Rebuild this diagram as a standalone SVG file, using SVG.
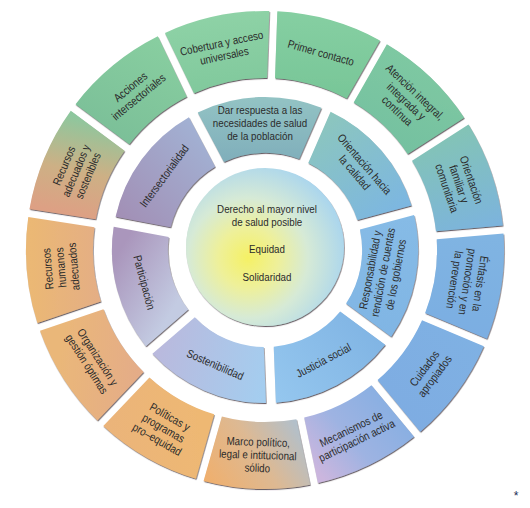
<svg xmlns="http://www.w3.org/2000/svg" width="530" height="508" viewBox="0 0 530 508">
<style>
.seg{filter:url(#sh)}
.t{font-family:'Liberation Sans',Arial,sans-serif;font-size:11.5px;fill:#2b2b2b;text-anchor:middle}
.ti{font-family:'Liberation Sans',Arial,sans-serif;font-size:11.5px;fill:#2b2b2b;text-anchor:middle}
</style>
<defs>
<filter id="sh" x="-10%" y="-10%" width="120%" height="120%">
<feDropShadow dx="0.6" dy="1.1" stdDeviation="0.6" flood-color="#3a2f35" flood-opacity="0.75"/>
</filter>
<linearGradient id="gCob" gradientUnits="userSpaceOnUse" x1="215" y1="15" x2="225" y2="95"><stop offset="0" stop-color="#8ED2A6"/><stop offset="1" stop-color="#80C89C"/></linearGradient>
<linearGradient id="gPri" gradientUnits="userSpaceOnUse" x1="320" y1="12" x2="315" y2="95"><stop offset="0" stop-color="#86CFA2"/><stop offset="1" stop-color="#78C698"/></linearGradient>
<linearGradient id="gAte" gradientUnits="userSpaceOnUse" x1="420" y1="50" x2="380" y2="150"><stop offset="0" stop-color="#7FC9A2"/><stop offset="1" stop-color="#74C0A0"/></linearGradient>
<linearGradient id="gOri" gradientUnits="userSpaceOnUse" x1="440" y1="120" x2="480" y2="235"><stop offset="0" stop-color="#84C6B0"/><stop offset="1" stop-color="#7CB3DE"/></linearGradient>
<linearGradient id="gEnf" gradientUnits="userSpaceOnUse" x1="470" y1="235" x2="460" y2="335"><stop offset="0" stop-color="#80B4E2"/><stop offset="1" stop-color="#7BAEE2"/></linearGradient>
<linearGradient id="gCui" gradientUnits="userSpaceOnUse" x1="470" y1="330" x2="395" y2="420"><stop offset="0" stop-color="#7FB1E3"/><stop offset="1" stop-color="#7EACE2"/></linearGradient>
<linearGradient id="gMec" gradientUnits="userSpaceOnUse" x1="410" y1="400" x2="320" y2="475"><stop offset="0" stop-color="#82AEE2"/><stop offset="0.6" stop-color="#9EB3E2"/><stop offset="1" stop-color="#CBB6DE"/></linearGradient>
<linearGradient id="gMar" gradientUnits="userSpaceOnUse" x1="305" y1="418" x2="205" y2="482"><stop offset="0" stop-color="#A9C1D6"/><stop offset="0.5" stop-color="#DDB993"/><stop offset="1" stop-color="#F0AF6C"/></linearGradient>
<linearGradient id="gPol" gradientUnits="userSpaceOnUse" x1="200" y1="420" x2="110" y2="430"><stop offset="0" stop-color="#EEB873"/><stop offset="1" stop-color="#EBB47A"/></linearGradient>
<linearGradient id="gOrg" gradientUnits="userSpaceOnUse" x1="140" y1="370" x2="60" y2="360"><stop offset="0" stop-color="#E4AC88"/><stop offset="1" stop-color="#EAB779"/></linearGradient>
<linearGradient id="gRH" gradientUnits="userSpaceOnUse" x1="100" y1="265" x2="30" y2="265"><stop offset="0" stop-color="#E4AE85"/><stop offset="1" stop-color="#EBB874"/></linearGradient>
<linearGradient id="gRec" gradientUnits="userSpaceOnUse" x1="95" y1="120" x2="75" y2="215"><stop offset="0" stop-color="#8DC79E"/><stop offset="0.55" stop-color="#CDB085"/><stop offset="1" stop-color="#DDA084"/></linearGradient>
<linearGradient id="gAcc" gradientUnits="userSpaceOnUse" x1="160" y1="40" x2="110" y2="140"><stop offset="0" stop-color="#88CEA0"/><stop offset="1" stop-color="#7BBF98"/></linearGradient>
<linearGradient id="gDar" gradientUnits="userSpaceOnUse" x1="260" y1="97" x2="260" y2="160"><stop offset="0" stop-color="#93C3C4"/><stop offset="1" stop-color="#80AFBB"/></linearGradient>
<linearGradient id="gOca" gradientUnits="userSpaceOnUse" x1="320" y1="110" x2="400" y2="215"><stop offset="0" stop-color="#8DC7BB"/><stop offset="1" stop-color="#7CB6E2"/></linearGradient>
<linearGradient id="gRes" gradientUnits="userSpaceOnUse" x1="380" y1="215" x2="380" y2="340"><stop offset="0" stop-color="#86BBE6"/><stop offset="1" stop-color="#80B5E4"/></linearGradient>
<linearGradient id="gJus" gradientUnits="userSpaceOnUse" x1="380" y1="320" x2="280" y2="400"><stop offset="0" stop-color="#7FB3E3"/><stop offset="1" stop-color="#94C6EE"/></linearGradient>
<linearGradient id="gSos" gradientUnits="userSpaceOnUse" x1="265" y1="380" x2="150" y2="350"><stop offset="0" stop-color="#A4CDEF"/><stop offset="1" stop-color="#BBB8DC"/></linearGradient>
<linearGradient id="gPar" gradientUnits="userSpaceOnUse" x1="120" y1="250" x2="185" y2="290"><stop offset="0" stop-color="#AA96BC"/><stop offset="1" stop-color="#C3CBE2"/></linearGradient>
<linearGradient id="gInt" gradientUnits="userSpaceOnUse" x1="120" y1="215" x2="215" y2="130"><stop offset="0" stop-color="#A290B6"/><stop offset="1" stop-color="#A2B4D6"/></linearGradient>
<radialGradient id="gCore" gradientUnits="userSpaceOnUse" cx="248" cy="258" r="100"><stop offset="0" stop-color="#F5F165"/><stop offset="0.3" stop-color="#EEF09A"/><stop offset="0.6" stop-color="#D6EAD6"/><stop offset="1" stop-color="#A9D5EE"/></radialGradient>
</defs>
<rect width="530" height="508" fill="#ffffff"/>

<g id="n-primer-contacto">
<path class="seg" fill="url(#gPri)" d="M277.34,11.29 A239,239 0 0 1 379.91,40.40 L346.72,98.60 A172,172 0 0 0 275.00,78.25 Z"/>
<text class="t" transform="translate(321.0,52.8) rotate(15.85) scale(0.85,1)"><tspan x="0" y="4">Primer contacto</tspan></text>
</g>
<g id="n-atencion-integral">
<path class="seg" fill="url(#gAte)" d="M386.86,44.36 A239,239 0 0 1 464.16,117.81 L407.72,153.93 A172,172 0 0 0 353.67,102.56 Z"/>
<text class="t" transform="translate(406.2,101.4) rotate(43.54) scale(0.85,1)"><tspan x="0" y="-9">Atención integral,</tspan><tspan x="0" y="4">integrada y</tspan><tspan x="0" y="17">contínua</tspan></text>
</g>
<g id="n-orientacion-familiar">
<path class="seg" fill="url(#gOri)" d="M468.47,124.55 A239,239 0 0 1 502.78,225.51 L436.02,231.25 A172,172 0 0 0 412.03,160.66 Z"/>
<text class="t" transform="translate(459.1,184.0) rotate(71.23) scale(0.85,1)"><tspan x="0" y="-9">Orientación</tspan><tspan x="0" y="4">familiar y</tspan><tspan x="0" y="17">comunitaria</tspan></text>
</g>
<g id="n-enfasis">
<path class="seg" fill="url(#gEnf)" d="M503.46,233.48 A239,239 0 0 1 486.92,338.81 L425.15,312.88 A172,172 0 0 0 436.71,239.22 Z"/>
<text class="t" transform="translate(467.5,281.8) rotate(98.92) scale(0.85,1)"><tspan x="0" y="-9">Énfasis en la</tspan><tspan x="0" y="4">promoción y en</tspan><tspan x="0" y="17">la prevención</tspan></text>
</g>
<g id="n-cuidados">
<path class="seg" fill="url(#gCui)" d="M483.83,346.19 A239,239 0 0 1 420.23,431.77 L377.58,380.10 A172,172 0 0 0 422.05,320.26 Z"/>
<text class="t" transform="translate(429.5,372.3) rotate(-53.39) scale(0.85,1)"><tspan x="0" y="-2.5">Cuidados</tspan><tspan x="0" y="10.5">apropiados</tspan></text>
</g>
<g id="n-mecanismos">
<path class="seg" fill="url(#gMec)" d="M414.06,436.86 A239,239 0 0 1 317.98,483.09 L304.22,417.52 A172,172 0 0 0 371.41,385.19 Z"/>
<text class="t" transform="translate(353.9,434.7) rotate(-25.69) scale(0.85,1)"><tspan x="0" y="-2.5">Mecanismos de</tspan><tspan x="0" y="10.5">participación activa</tspan></text>
</g>
<g id="n-marco">
<path class="seg" fill="url(#gMar)" d="M310.15,484.73 A239,239 0 0 1 203.59,481.01 L221.88,416.56 A172,172 0 0 0 296.39,419.16 Z"/>
<text class="t" transform="translate(257.8,454.9) rotate(2) scale(0.85,1)"><tspan x="0" y="-9">Marco político,</tspan><tspan x="0" y="4">legal e intitucional</tspan><tspan x="0" y="17">sólido</tspan></text>
</g>
<g id="n-politicas">
<path class="seg" fill="url(#gPol)" d="M195.89,478.83 A239,239 0 0 1 103.27,426.01 L149.42,377.44 A172,172 0 0 0 214.19,414.37 Z"/>
<text class="t" transform="translate(163.5,428.1) rotate(29.69) scale(0.85,1)"><tspan x="0" y="-9">Políticas y</tspan><tspan x="0" y="4">programas</tspan><tspan x="0" y="17">pro–equidad</tspan></text>
</g>
<g id="n-organizacion">
<path class="seg" fill="url(#gOrg)" d="M97.47,420.50 A239,239 0 0 1 40.00,330.69 L103.43,309.13 A172,172 0 0 0 143.62,371.93 Z"/>
<text class="t" transform="translate(92.3,360.5) rotate(57.38) scale(0.85,1)"><tspan x="0" y="-2.5">Organización y</tspan><tspan x="0" y="10.5">gestión óptimas</tspan></text>
</g>
<g id="n-recursos-humanos">
<path class="seg" fill="url(#gRH)" d="M37.42,323.11 A239,239 0 0 1 28.27,216.88 L94.46,227.27 A172,172 0 0 0 100.86,301.56 Z"/>
<text class="t" transform="translate(60.8,267.6) rotate(-94.92) scale(0.85,1)"><tspan x="0" y="-9">Recursos</tspan><tspan x="0" y="4">humanos</tspan><tspan x="0" y="17">adecuados</tspan></text>
</g>
<g id="n-recursos-adecuados">
<path class="seg" fill="url(#gRec)" d="M29.51,208.98 A239,239 0 0 1 70.78,110.66 L124.56,150.63 A172,172 0 0 0 95.70,219.37 Z"/>
<text class="t" transform="translate(76.0,170.7) rotate(-67.23) scale(0.85,1)"><tspan x="0" y="-9">Recursos</tspan><tspan x="0" y="4">adecuados y</tspan><tspan x="0" y="17">sostenibles</tspan></text>
</g>
<g id="n-acciones">
<path class="seg" fill="url(#gAcc)" d="M75.55,104.24 A239,239 0 0 1 157.78,36.36 L186.83,96.74 A172,172 0 0 0 129.33,144.20 Z"/>
<text class="t" transform="translate(134.5,91.9) rotate(-39.54) scale(0.85,1)"><tspan x="0" y="-2.5">Acciones</tspan><tspan x="0" y="10.5">intersectoriales</tspan></text>
</g>
<g id="n-cobertura">
<path class="seg" fill="url(#gCob)" d="M164.99,32.89 A239,239 0 0 1 269.34,11.01 L267.01,77.97 A172,172 0 0 0 194.04,93.27 Z"/>
<text class="t" transform="translate(222.9,49.4) rotate(-11.85) scale(0.85,1)"><tspan x="0" y="-2.5">Cobertura y acceso</tspan><tspan x="0" y="10.5">universales</tspan></text>
</g>

<g id="n-dar-respuesta">
<path class="seg" fill="url(#gDar)" d="M197.76,112.48 A153,153 0 0 1 321.42,107.70 L299.09,159.05 A97,97 0 0 0 223.99,161.96 Z"/>
<text class="t" transform="translate(260.0,123.0) scale(0.85,1)"><tspan x="0" y="-9">Dar respuesta a las</tspan><tspan x="0" y="4">necesidades de salud</tspan><tspan x="0" y="17">de la población</tspan></text>
</g>
<g id="n-orientacion-calidad">
<path class="seg" fill="url(#gOca)" d="M330.59,111.68 A153,153 0 0 1 411.44,205.39 L357.36,219.95 A97,97 0 0 0 308.26,163.04 Z"/>
<text class="t" transform="translate(359.6,168.3) rotate(49.21) scale(0.85,1)"><tspan x="0" y="-2.5">Orientación hacia</tspan><tspan x="0" y="10.5">la calidad</tspan></text>
</g>
<g id="n-responsabilidad">
<path class="seg" fill="url(#gRes)" d="M414.04,215.05 A153,153 0 0 1 391.18,336.67 L346.08,303.48 A97,97 0 0 0 359.96,229.61 Z"/>
<text class="t" transform="translate(382.9,272.2) rotate(-79.36) scale(0.85,1)"><tspan x="0" y="-9">Responsabilidad y</tspan><tspan x="0" y="4">rendición de cuentas</tspan><tspan x="0" y="17">de los gobiernos</tspan></text>
</g>
<g id="n-justicia">
<path class="seg" fill="url(#gJus)" d="M385.25,344.73 A153,153 0 0 1 275.91,402.69 L273.74,346.74 A97,97 0 0 0 340.15,311.53 Z"/>
<text class="t" transform="translate(323.5,360.4) rotate(-27.93) scale(0.85,1)"><tspan x="0" y="4">Justicia social</tspan></text>
</g>
<g id="n-sostenibilidad">
<path class="seg" fill="url(#gSos)" d="M265.92,403.08 A153,153 0 0 1 152.42,353.73 L194.82,317.15 A97,97 0 0 0 263.75,347.12 Z"/>
<text class="t" transform="translate(215.2,364.6) rotate(23.5) scale(0.85,1)"><tspan x="0" y="4">Sostenibilidad</tspan></text>
</g>
<g id="n-participacion">
<path class="seg" fill="url(#gPar)" d="M145.89,346.16 A153,153 0 0 1 113.71,226.66 L168.75,237.00 A97,97 0 0 0 188.29,309.58 Z"/>
<text class="t" transform="translate(144.3,282.5) rotate(74.93) scale(0.85,1)"><tspan x="0" y="4">Participación</tspan></text>
</g>
<g id="n-intersectorialidad">
<path class="seg" fill="url(#gInt)" d="M115.56,216.83 A153,153 0 0 1 188.92,117.16 L215.15,166.64 A97,97 0 0 0 170.59,227.17 Z"/>
<text class="t" transform="translate(164.3,175.9) rotate(-53.64) scale(0.85,1)"><tspan x="0" y="4">Intersectorialidad</tspan></text>
</g>

<g id="n-centro">
<circle class="seg" cx="265" cy="247" r="79" fill="url(#gCore)"/>
<text class="ti" transform="translate(267,0) scale(0.85,1)"><tspan x="0" y="213">Derecho al mayor nivel</tspan><tspan x="0" y="226">de salud posible</tspan></text>
<text class="ti" transform="translate(267,253) scale(0.85,1)" x="0" y="0">Equidad</text>
<text class="ti" transform="translate(267,281) scale(0.85,1)" x="0" y="0">Solidaridad</text>
</g>

<text x="516" y="500" style="font-family:'Liberation Sans',Arial,sans-serif;font-size:12px;fill:#1a2a55;text-anchor:middle">*</text>
</svg>
